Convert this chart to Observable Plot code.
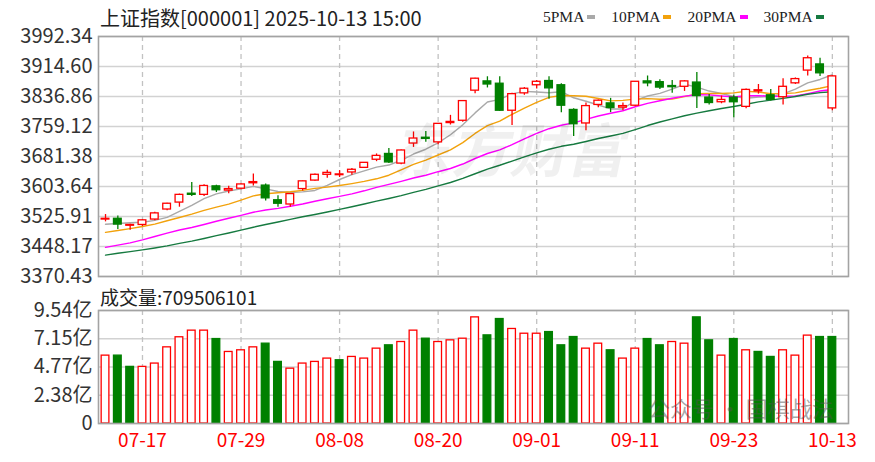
<!DOCTYPE html>
<html><head><meta charset="utf-8">
<script src="https://cdn.jsdelivr.net/npm/d3@7"></script>
<script src="https://cdn.jsdelivr.net/npm/@observablehq/plot@0.6"></script>
<style>
html,body{margin:0;padding:0;background:#fff;}
#wrap{position:relative;width:875px;height:462px;overflow:hidden;font-family:'Noto Sans CJK SC','Noto Sans',sans-serif;color:#222;background:#fff;}
#wrap svg{position:absolute;left:0;overflow:visible;}
.t{position:absolute;white-space:pre;}
#legend{position:absolute;left:543px;top:6px;height:22px;display:flex;align-items:center;gap:16px;font-family:'Liberation Serif',serif;font-size:15.5px;color:#222;}
#legend .it{display:flex;align-items:center;gap:3px;}
#legend .sw{display:inline-block;width:8px;height:4px;}
</style></head><body>
<div id="wrap"></div>
<script>
// ---------- data ----------
const titleText = "上证指数[000001] 2025-10-13 15:00";
const volTitleText = "成交量:709506101";
const dates = [
 "07-14","07-15","07-16","07-17","07-18","07-21","07-22","07-23","07-24","07-25",
 "07-28","07-29","07-30","07-31","08-01","08-04","08-05","08-06","08-07","08-08",
 "08-11","08-12","08-13","08-14","08-15","08-18","08-19","08-20","08-21","08-22",
 "08-25","08-26","08-27","08-28","08-29","09-01","09-02","09-03","09-04","09-05",
 "09-08","09-09","09-10","09-11","09-12","09-15","09-16","09-17","09-18","09-19",
 "09-22","09-23","09-24","09-25","09-26","09-29","09-30","10-09","10-10","10-13"];
const openP = [
 3518,3520,3502,3504,3518,3544,3562,3585,3582,3604,
 3593,3598,3612,3606,3568,3557,3597,3619,3634,3633,
 3640,3652,3673,3688,3663,3715,3730,3718,3768,3774,
 3852,3876,3870,3800,3845,3866,3877,3866,3802,3767,
 3815,3819,3808,3813,3876,3874,3864,3862,3873,3834,
 3822,3834,3810,3850,3840,3835,3871,3904,3920,3806];
const highP = [
 3531,3527,3506,3518,3537,3560,3584,3614,3608,3607,
 3604,3610,3636,3610,3580,3585,3618,3636,3646,3645,
 3650,3666,3688,3702,3698,3745,3746,3767,3788,3826,
 3884,3888,3888,3845,3860,3878,3888,3870,3805,3820,
 3828,3832,3820,3876,3890,3880,3878,3878,3899,3842,
 3838,3840,3856,3868,3855,3883,3885,3942,3936,3891];
const lowP = [
 3512,3492,3490,3500,3515,3541,3550,3578,3578,3588,
 3585,3595,3605,3566,3550,3550,3592,3617,3625,3627,
 3633,3650,3668,3663,3660,3705,3718,3712,3763,3770,
 3844,3859,3798,3762,3840,3856,3830,3795,3733,3748,
 3808,3795,3800,3810,3862,3855,3845,3850,3806,3815,
 3818,3782,3805,3843,3825,3815,3868,3890,3889,3800];
const closeP = [
 3520,3505,3504,3516,3534,3559,3582,3582,3605,3594,
 3597,3609,3615,3573,3559,3584,3617,3634,3639,3635,
 3647,3665,3683,3666,3697,3728,3727,3766,3771,3825,
 3883,3868,3800,3843,3857,3875,3858,3813,3765,3812,
 3826,3807,3812,3875,3871,3860,3861,3876,3838,3820,
 3828,3822,3854,3853,3828,3862,3882,3936,3897,3889];
const ma5 = [
 3506.0,3507.6,3509.6,3511.0,3515.8,3523.6,3539.0,3554.6,3572.4,3584.4,
 3592.0,3597.4,3604.0,3597.6,3590.6,3588.0,3589.6,3593.4,3606.6,3621.8,
 3634.4,3644.0,3653.8,3659.2,3671.6,3687.8,3700.2,3716.8,3737.8,3763.4,
 3794.4,3822.6,3829.4,3843.8,3850.2,3848.6,3846.6,3849.2,3833.6,3824.6,
 3814.8,3804.6,3804.4,3826.4,3838.2,3845.0,3855.8,3868.6,3861.2,3851.0,
 3844.6,3836.8,3832.4,3835.4,3837.0,3843.8,3855.8,3872.2,3881.0,3893.2];
const ma10 = [
 3484.9,3489.7,3494.6,3500.1,3506.2,3514.8,3523.3,3532.1,3541.7,3550.1,
 3557.8,3568.2,3579.3,3585.0,3587.5,3590.0,3593.5,3598.7,3602.1,3606.2,
 3611.2,3616.8,3623.6,3632.9,3646.7,3661.1,3672.1,3685.3,3698.5,3717.5,
 3741.1,3761.4,3773.1,3790.8,3806.8,3821.5,3834.6,3839.3,3838.7,3837.4,
 3831.7,3825.6,3826.8,3830.0,3831.4,3829.9,3830.2,3836.5,3843.8,3844.6,
 3844.8,3846.3,3850.5,3848.3,3844.0,3844.2,3846.3,3852.3,3858.2,3865.1];
const ma20 = [
 3445.9,3451.8,3457.6,3465.3,3474.0,3482.9,3491.0,3497.4,3505.2,3513.7,
 3521.4,3529.0,3537.0,3542.6,3546.9,3552.4,3558.4,3565.4,3571.9,3578.2,
 3584.5,3592.5,3601.5,3609.0,3617.1,3625.6,3632.8,3642.0,3650.3,3661.9,
 3676.2,3689.1,3698.4,3711.9,3726.8,3741.3,3753.4,3762.3,3768.6,3777.5,
 3786.4,3793.5,3800.0,3810.4,3819.1,3825.7,3832.4,3837.9,3841.3,3841.0,
 3838.3,3836.0,3838.7,3839.2,3837.7,3837.1,3838.3,3844.4,3851.0,3854.9];
const ma30 = [
 3425.9,3430.7,3435.0,3439.4,3444.3,3449.7,3456.2,3462.2,3469.0,3476.2,
 3483.2,3490.6,3498.1,3505.2,3511.8,3518.6,3525.2,3531.1,3537.5,3544.5,
 3551.3,3558.2,3565.8,3572.7,3580.1,3588.6,3596.3,3605.4,3614.1,3624.6,
 3636.7,3648.8,3658.7,3669.6,3680.3,3690.9,3700.1,3707.8,3713.1,3720.4,
 3728.0,3734.6,3741.2,3751.2,3761.6,3770.8,3779.0,3787.0,3793.7,3799.8,
 3805.9,3811.1,3816.8,3823.0,3827.4,3831.9,3837.0,3842.7,3846.9,3849.0];
const volume = [ // 亿
 5.73,5.73,4.78,4.78,5.06,6.43,7.28,7.84,7.84,7.13,
 6.04,6.18,6.43,6.74,5.20,4.63,5.06,5.20,5.48,5.34,
 5.62,5.48,6.32,6.60,6.88,7.84,7.16,6.88,7.02,7.16,
 8.96,7.44,8.82,7.98,7.58,7.58,7.72,6.60,7.30,6.32,
 6.74,6.18,5.48,6.32,7.13,6.60,6.88,6.74,8.96,7.02,
 5.73,7.13,6.18,6.04,5.62,6.18,5.73,7.42,7.30,7.30];
const volUp = [
 1,0,0,1,1,1,1,1,1,0,
 1,1,1,0,0,1,1,1,1,0,
 1,1,1,0,1,1,0,1,1,1,
 1,0,0,1,1,1,0,0,0,1,
 1,0,1,1,0,0,1,1,0,0,
 1,0,1,0,0,1,1,1,0,0];
const priceTicks = [3370.43,3448.17,3525.91,3603.64,3681.38,3759.12,3836.86,3914.60,3992.34];
const volTicks = [0,2.385,4.77,7.155,9.54];
const volTickLabels = ["0","2.38亿","4.77亿","7.15亿","9.54亿"];
const dateTickLabels = ["07-17","07-29","08-08","08-20","09-01","09-11","09-23","10-13"];
const maNames = ["5PMA","10PMA","20PMA","30PMA"];
const maColors = ["#a9a9a9","#f2a20c","#ff00ff","#167a40"];
const maArrays = [ma5, ma10, ma20, ma30];

// ---------- build ----------
const RED = "#ff0000", GREEN = "#008000";
const FONT = "'Noto Sans CJK SC','Noto Sans',sans-serif";
const candles = dates.map((d, i) => ({i, date: d, open: openP[i], high: highP[i], low: lowP[i], close: closeP[i], up: closeP[i] >= openP[i]}));
const vols = dates.map((d, i) => ({i, v: volume[i], up: volUp[i] === 1}));
const tickIdx = dateTickLabels.map(l => dates.indexOf(l));
const xDomain = [-0.57, 60.31];
const wrap = document.getElementById("wrap");

const price = Plot.plot({
  width: 875, height: 285,
  marginTop: 36, marginBottom: 9, marginLeft: 98, marginRight: 27,
  style: {fontFamily: FONT, fontSize: "20px", color: "#333", background: "transparent", overflow: "visible"},
  x: {type: "linear", domain: xDomain, axis: null, label: null},
  y: {domain: [priceTicks[0], priceTicks[priceTicks.length - 1]], axis: null, label: null},
  color: {type: "identity"},
  marks: [
    Plot.gridY(priceTicks, {stroke: "#d2d2d2", strokeOpacity: 1, strokeWidth: 1.4}),
    Plot.ruleX(tickIdx, {stroke: "#c2c2c2", strokeDasharray: "5,4", strokeWidth: 1.3}),
    Plot.axisY(priceTicks, {tickSize: 0, tickPadding: 6, label: null, tickFormat: d => d.toFixed(2), color: "#333", fontSize: 20}),
    ...maArrays.map((arr, k) => Plot.line(arr.map((v, i) => ({i, v})), {x: "i", y: "v", stroke: maColors[k], strokeWidth: 1.4})),
    Plot.ruleX(candles, {x: "i", y1: "low", y2: "high", stroke: d => d.up ? RED : GREEN, strokeWidth: 1.3}),
    Plot.rect(candles, {x1: d => d.i - 0.5, x2: d => d.i + 0.5, y1: "open", y2: "close", insetLeft: 2.3, insetRight: 2.3,
      fill: d => d.up ? "#ffffff" : GREEN, stroke: d => d.up ? RED : GREEN, strokeWidth: 1.3}),
    Plot.frame({stroke: "#a3a3a3", strokeWidth: 1.6})
  ]
});
price.style.top = "0px";
wrap.appendChild(price);

const volPlot = Plot.plot({
  width: 875, height: 177,
  marginTop: 25, marginBottom: 39, marginLeft: 98, marginRight: 27,
  style: {fontFamily: FONT, fontSize: "20px", color: "#333", background: "transparent", overflow: "visible"},
  x: {type: "linear", domain: xDomain, label: null},
  y: {domain: [0, volTicks[volTicks.length - 1]], label: null},
  color: {type: "identity"},
  marks: [
    Plot.gridY(volTicks, {stroke: "#d2d2d2", strokeOpacity: 1, strokeWidth: 1.4}),
    Plot.ruleX(tickIdx, {stroke: "#c2c2c2", strokeDasharray: "5,4", strokeWidth: 1.3}),
    Plot.axisY(volTicks, {tickSize: 0, tickPadding: 6, label: null, tickFormat: d => volTickLabels[volTicks.indexOf(d)], color: "#333", fontSize: 20}),
    Plot.axisX(tickIdx, {tickSize: 0, tickPadding: 10, label: null, tickFormat: i => dates[i], color: RED, fontSize: 19}),
    Plot.rectY(vols, {x1: d => d.i - 0.5, x2: d => d.i + 0.5, y: "v", insetLeft: 2.3, insetRight: 2.3,
      fill: d => d.up ? "#ffffff" : GREEN, stroke: d => d.up ? RED : GREEN, strokeWidth: 1.3}),
    Plot.frame({stroke: "#a3a3a3", strokeWidth: 1.6})
  ]
});
volPlot.style.top = "285px";
wrap.appendChild(volPlot);

// texts
function addText(txt, css) {
  const el = document.createElement("div");
  el.className = "t";
  el.textContent = txt;
  Object.assign(el.style, css);
  wrap.appendChild(el);
  return el;
}
addText(titleText, {left: "100px", top: "6px", fontSize: "20px", lineHeight: "24px", color: "#222"});
addText(volTitleText, {left: "100px", top: "285px", fontSize: "19px", lineHeight: "24px", color: "#222"});

// legend
const legend = document.createElement("div");
legend.id = "legend";
maNames.forEach((n, k) => {
  const it = document.createElement("span");
  it.className = "it";
  const tx = document.createElement("span");
  tx.textContent = n;
  const sw = document.createElement("span");
  sw.className = "sw";
  sw.style.background = maColors[k];
  it.appendChild(tx); it.appendChild(sw);
  legend.appendChild(it);
});
wrap.appendChild(legend);

// watermarks
addText("东方财富", {left: "398px", top: "112px", fontSize: "58px", lineHeight: "70px", fontWeight: "bold", color: "rgba(0,0,0,0.06)", transform: "skewX(-12deg)"});
addText("公众号 · 国棋战法", {left: "648px", top: "394px", fontSize: "22px", lineHeight: "26px", color: "rgba(80,80,80,0.5)"});
</script>
</body></html>
